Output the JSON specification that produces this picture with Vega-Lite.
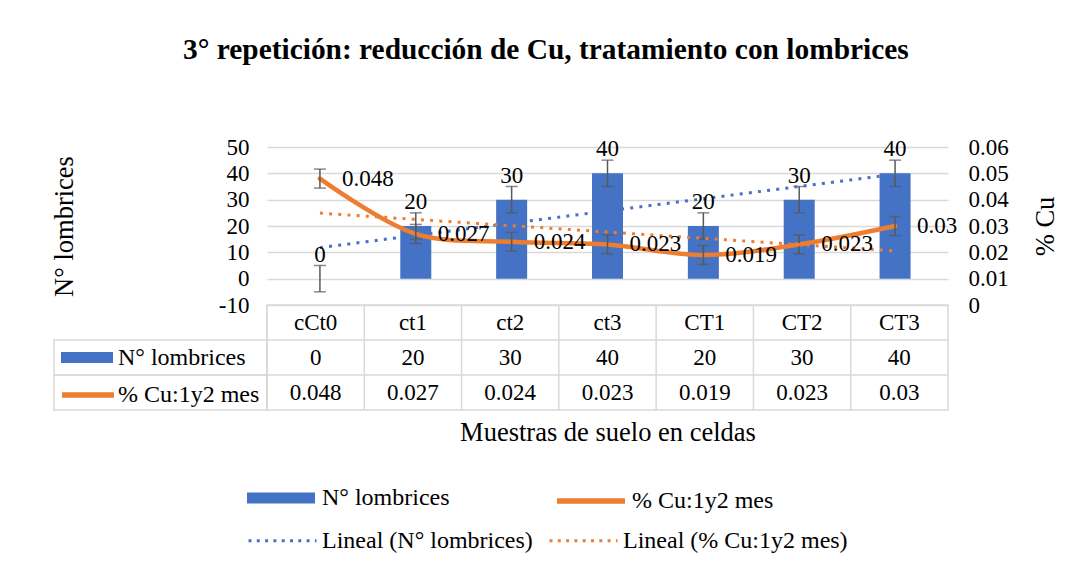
{
  "$schema": "https://vega.github.io/schema/vega-lite/v6.json",
  "padding": {"left": 51, "top": 34, "right": 5, "bottom": 5},
  "background": "white",
  "title": {
    "text": "3° repetición: reducción de Cu, tratamiento con lombrices",
    "anchor": "start", "frame": "group", "dx": 129, "offset": 71,
    "fontSize": 29.4, "fontWeight": "bold", "font": "Liberation Serif", "color": "black"
  },
  "datasets": {
    "main": [
      {"idx": 1, "cat": "cCt0", "N": 0, "Cu": 0.048, "nErr": 5, "cuErr": 0.0036},
      {"idx": 2, "cat": "ct1", "N": 20, "Cu": 0.027, "nErr": 5, "cuErr": 0.0036},
      {"idx": 3, "cat": "ct2", "N": 30, "Cu": 0.024, "nErr": 5, "cuErr": 0.0036},
      {"idx": 4, "cat": "ct3", "N": 40, "Cu": 0.023, "nErr": 5, "cuErr": 0.0036},
      {"idx": 5, "cat": "CT1", "N": 20, "Cu": 0.019, "nErr": 5, "cuErr": 0.0036},
      {"idx": 6, "cat": "CT2", "N": 30, "Cu": 0.023, "nErr": 5, "cuErr": 0.0036},
      {"idx": 7, "cat": "CT3", "N": 40, "Cu": 0.03, "nErr": 5, "cuErr": 0.0036}
    ],
    "rows": [{"row": "N° lombrices"}, {"row": "% Cu:1y2 mes"}]
  },
  "config": {
    "font": "Liberation Serif",
    "view": {"stroke": null},
    "axis": {"labelFont": "Liberation Serif", "titleFont": "Liberation Serif", "labelColor": "black", "titleColor": "black", "titleFontWeight": "normal"},
    "legend": {"labelFont": "Liberation Serif", "labelColor": "black", "labelLimit": 500, "labelFontSize": 24, "padding": 0},
    "text": {"font": "Liberation Serif", "color": "black"}
  },
  "resolve": {
    "scale": {"color": "independent", "fill": "independent", "stroke": "independent"},
    "legend": {"color": "independent", "fill": "independent", "stroke": "independent"}
  },
  "vconcat": [
    {
      "columns": 2,
      "spacing": 0,
      "bounds": "flush",
      "align": "each",
      "resolve": {
        "scale": {"color": "independent", "fill": "independent", "stroke": "independent"},
        "legend": {"color": "independent", "fill": "independent", "stroke": "independent"}
      },
      "concat": [
        {
          "width": 213, "height": 158,
          "data": {"values": [{}]},
          "mark": {"type": "point", "opacity": 0},
          "encoding": {}
        },
        {
          "width": 681, "height": 158,
          "data": {"name": "main"},
          "encoding": {
            "x": {"field": "idx", "type": "quantitative", "scale": {"domain": [0.5, 7.5], "nice": false, "zero": false}, "axis": null}
          },
          "layer": [
            {
              "encoding": {
                "y": {
                  "field": "N", "type": "quantitative",
                  "scale": {"domain": [-10, 50], "nice": false, "zero": false},
                  "axis": {
                    "orient": "left", "title": "N° lombrices", "titleFontSize": 26.5, "titlePadding": 140,
                    "values": [-10, 0, 10, 20, 30, 40, 50], "labelExpr": "'' + datum.value",
                    "labelFontSize": 23, "labelPadding": 18, "ticks": false, "domain": false,
                    "grid": true, "gridColor": "#d9d9d9", "gridWidth": 1.5
                  }
                }
              },
              "layer": [
                {
                  "mark": {"type": "bar", "size": 31},
                  "encoding": {
                    "y2": {"datum": 0},
                    "fill": {
                      "datum": "N° lombrices",
                      "scale": {"domain": ["N° lombrices"], "range": ["#4472C4"]},
                      "legend": {
                        "title": null, "orient": "none", "legendX": -20, "legendY": 317,
                        "symbolType": "M-1,-0.16H1V0.16H-1Z", "symbolSize": 4624, "symbolStrokeWidth": 0,
                        "labelOffset": 7
                      }
                    }
                  }
                },
                {
                  "mark": {"type": "errorbar", "ticks": true, "size": 12, "thickness": 1.5, "color": "#595959"},
                  "encoding": {"yError": {"field": "nErr"}}
                },
                {
                  "transform": [{"regression": "N", "on": "idx"}],
                  "mark": {"type": "line", "strokeWidth": 3, "strokeDash": [3, 6.2]},
                  "encoding": {
                    "color": {
                      "datum": "Lineal (N° lombrices)",
                      "scale": {"domain": ["Lineal (N° lombrices)", "Lineal (% Cu:1y2 mes)"], "range": ["#4472C4", "#ED7D31"]},
                      "legend": {
                        "title": null, "orient": "none", "legendX": -20, "legendY": 358, "columns": 2, "columnPadding": 10,
                        "symbolType": "stroke", "symbolSize": 4624, "symbolStrokeWidth": 3, "symbolDash": [3, 5.3],
                        "labelOffset": 4
                      }
                    }
                  }
                },
                {
                  "mark": {"type": "text", "dy": -24, "fontSize": 23, "baseline": "middle", "font": "Liberation Serif"},
                  "encoding": {"text": {"field": "N", "type": "quantitative"}}
                }
              ]
            },
            {
              "encoding": {
                "y": {
                  "field": "Cu", "type": "quantitative",
                  "scale": {"domain": [0, 0.06], "nice": false, "zero": false},
                  "axis": {
                    "orient": "right", "title": "% Cu", "titleAngle": 270, "titleBaseline": "top", "titleFontSize": 26.5, "titlePadding": 24,
                    "values": [0, 0.01, 0.02, 0.03, 0.04, 0.05, 0.06], "labelExpr": "'' + datum.value",
                    "labelFontSize": 23, "labelPadding": 20, "ticks": false, "domain": false, "grid": false
                  }
                }
              },
              "layer": [
                {
                  "mark": {"type": "line", "strokeWidth": 4.5, "interpolate": "catmull-rom", "strokeCap": "round", "strokeJoin": "round"},
                  "encoding": {
                    "stroke": {
                      "datum": "% Cu:1y2 mes",
                      "scale": {"domain": ["% Cu:1y2 mes"], "range": ["#ED7D31"]},
                      "legend": {
                        "title": null, "orient": "none", "legendX": 287, "legendY": 317,
                        "symbolType": "stroke", "symbolSize": 4624, "symbolStrokeWidth": 5.5,
                        "labelOffset": 4
                      }
                    }
                  }
                },
                {
                  "mark": {"type": "errorbar", "ticks": true, "size": 12, "thickness": 1.5, "color": "#595959"},
                  "encoding": {"yError": {"field": "cuErr"}}
                },
                {
                  "transform": [{"regression": "Cu", "on": "idx"}],
                  "mark": {"type": "line", "strokeWidth": 3, "strokeDash": [3, 6.2]},
                  "encoding": {"color": {"datum": "Lineal (% Cu:1y2 mes)"}}
                },
                {
                  "mark": {"type": "text", "align": "left", "dx": 22, "fontSize": 23, "baseline": "middle", "font": "Liberation Serif"},
                  "encoding": {"text": {"field": "Cu", "type": "quantitative"}}
                }
              ]
            }
          ],
          "resolve": {"scale": {"y": "independent"}}
        },
        {
          "width": 213, "height": 105,
          "data": {"name": "rows"},
          "encoding": {
            "y": {"field": "row", "type": "nominal", "scale": {"domain": ["Muestra", "N° lombrices", "% Cu:1y2 mes"], "paddingInner": 0, "paddingOuter": 0}, "axis": null}
          },
          "layer": [
            {
              "mark": {"type": "rect", "fillOpacity": 0, "stroke": "#d9d9d9", "strokeWidth": 1.5}
            },
            {
              "mark": {"type": "point", "size": 0, "filled": true, "opacity": 1},
              "encoding": {
                "fill": {
                  "datum": "N° lombrices",
                  "scale": {"domain": ["N° lombrices"], "range": ["#4472C4"]},
                  "legend": {
                    "title": null, "orient": "none", "legendX": 7, "legendY": 26.5,
                    "symbolType": "M-1,-0.21H1V0.21H-1Z", "symbolSize": 2704, "symbolStrokeWidth": 0,
                    "labelOffset": 5
                  }
                }
              }
            },
            {
              "mark": {"type": "point", "size": 0, "filled": false, "strokeWidth": 5.5, "opacity": 1},
              "encoding": {
                "stroke": {
                  "datum": "% Cu:1y2 mes",
                  "scale": {"domain": ["% Cu:1y2 mes"], "range": ["#ED7D31"]},
                  "legend": {
                    "title": null, "orient": "none", "legendX": 5, "legendY": 61,
                    "symbolType": "stroke", "symbolSize": 2704, "symbolStrokeWidth": 5.5,
                    "labelOffset": 1
                  }
                }
              }
            }
          ]
        },
        {
          "width": 681, "height": 105,
          "view": {"stroke": "#d9d9d9", "strokeWidth": 1.5},
          "layer": [
            {
              "data": {"name": "main"},
              "mark": {"type": "rule", "color": "#d9d9d9", "strokeWidth": 1.5},
              "encoding": {
                "x": {
                  "field": "cat", "type": "nominal", "bandPosition": 0,
                  "scale": {"domain": ["cCt0", "ct1", "ct2", "ct3", "CT1", "CT2", "CT3"], "paddingInner": 0, "paddingOuter": 0},
                  "axis": {"orient": "bottom", "title": "Muestras de suelo en celdas", "titleFontSize": 26.5, "titlePadding": 9, "labels": false, "ticks": false, "domain": false, "grid": false}
                }
              }
            },
            {
              "data": {"name": "rows"},
              "mark": {"type": "rule", "color": "#d9d9d9", "strokeWidth": 1.5},
              "encoding": {
                "y": {"field": "row", "type": "nominal", "bandPosition": 0, "scale": {"domain": ["Muestra", "N° lombrices", "% Cu:1y2 mes"], "paddingInner": 0, "paddingOuter": 0}, "axis": null}
              }
            },
            {
              "data": {"name": "main"},
              "mark": {"type": "text", "fontSize": 23, "baseline": "middle", "font": "Liberation Serif"},
              "encoding": {
                "x": {"field": "cat", "type": "nominal"},
                "y": {"datum": "Muestra", "type": "nominal", "bandPosition": 0.5},
                "text": {"field": "cat", "type": "nominal"}
              }
            },
            {
              "data": {"name": "main"},
              "mark": {"type": "text", "fontSize": 23, "baseline": "middle", "font": "Liberation Serif"},
              "encoding": {
                "x": {"field": "cat", "type": "nominal"},
                "y": {"datum": "N° lombrices", "type": "nominal", "bandPosition": 0.5},
                "text": {"field": "N", "type": "quantitative"}
              }
            },
            {
              "data": {"name": "main"},
              "mark": {"type": "text", "fontSize": 23, "baseline": "middle", "font": "Liberation Serif"},
              "encoding": {
                "x": {"field": "cat", "type": "nominal"},
                "y": {"datum": "% Cu:1y2 mes", "type": "nominal", "bandPosition": 0.5},
                "text": {"field": "Cu", "type": "quantitative"}
              }
            }
          ]
        }
      ]
    }
  ]
}
